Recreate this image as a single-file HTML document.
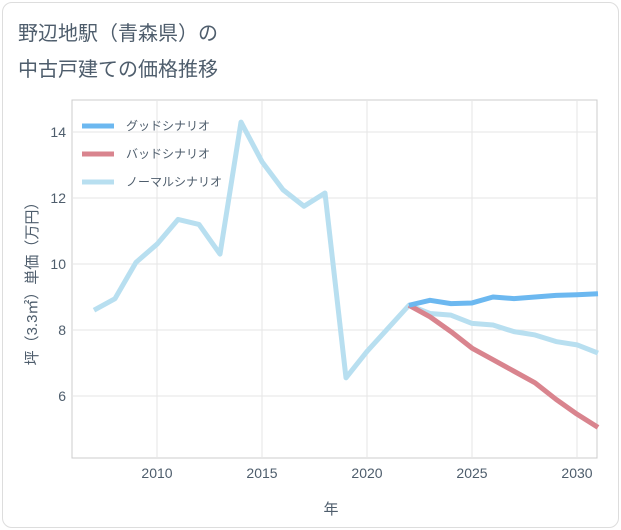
<!DOCTYPE html>
<html><head><meta charset="utf-8"><style>
body{margin:0;background:#fff;font-family:"Liberation Sans","Noto Sans CJK JP",sans-serif;}
#card{position:absolute;left:2px;top:2px;width:615px;height:524px;border:1px solid #ddd;border-radius:10px;background:#fff;}
</style></head><body>
<div id="card"></div>
<svg id="c" width="621" height="530" style="position:absolute;left:0;top:0">
<text x="18" y="40" font-size="20" fill="#4e5d6c">野辺地駅（青森県）の</text>
<text x="18" y="76" font-size="20" fill="#4e5d6c">中古戸建ての価格推移</text>
<g id="grid"></g><g id="series"></g>
<text x="331" y="514" font-size="15" fill="#4e5d6c" text-anchor="middle">年</text>
<text transform="translate(37,280) rotate(-90)" font-size="15" fill="#4e5d6c" text-anchor="middle">坪（3.3㎡）単価（万円）</text>
</svg>
<script>
const years=[2007,2008,2009,2010,2011,2012,2013,2014,2015,2016,2017,2018,2019,2020,2021,2022,2023,2024,2025,2026,2027,2028,2029,2030,2031];
const normal=[8.6,8.95,10.05,10.6,11.35,11.2,10.3,14.3,13.1,12.25,11.75,12.15,6.55,7.35,8.05,8.75,8.5,8.45,8.2,8.15,7.95,7.85,7.65,7.55,7.3];
const goodYears=[2022,2023,2024,2025,2026,2027,2028,2029,2030,2031];
const good=[8.75,8.9,8.8,8.82,9.0,8.95,9.0,9.05,9.07,9.1];
const bad=[8.75,8.4,7.95,7.45,7.1,6.75,6.4,5.9,5.45,5.05];
const xTicks=[2010,2015,2020,2025,2030];
const yTicks=[6,8,10,12,14];
const X=y=>157+(y-2010)*21, Y=v=>264-(v-10)*33;
const NS='http://www.w3.org/2000/svg';
const g=document.getElementById('grid'), s=document.getElementById('series');
function el(p,t,a){const e=document.createElementNS(NS,t);for(const k in a)e.setAttribute(k,a[k]);p.appendChild(e);return e;}
const frame=el(g,'rect',{x:72,y:100,width:525,height:358,fill:'none',stroke:'#ccc'});


xTicks.forEach(t=>{const l=el(g,'line',{x1:X(t),x2:X(t),y1:100,y2:458,stroke:'#e6e6e6'});


const tx=el(g,'text',{x:X(t),y:478,'font-size':14,fill:'#4e5d6c','text-anchor':'middle'});tx.textContent=t;

});
yTicks.forEach(t=>{const l=el(g,'line',{x1:72,x2:597,y1:Y(t),y2:Y(t),stroke:'#e6e6e6'});


const tx=el(g,'text',{x:66,y:Y(t)+5,'font-size':14,fill:'#4e5d6c','text-anchor':'end'});tx.textContent=t;

});
function line(xs,vs,c,name){const p=el(s,'polyline',{points:xs.map((y,i)=>X(y)+','+Y(vs[i])).join(' '),fill:'none',stroke:c,'stroke-width':5,'stroke-linejoin':'round'});

}
line(years,normal,'#b8dff0','normal-scenario-line');
line(goodYears,bad,'#d9848e','bad-scenario-line');
line(goodYears,good,'#6cb8f0','good-scenario-line');
const leg=[['グッドシナリオ','#6cb8f0'],['バッドシナリオ','#d9848e'],['ノーマルシナリオ','#b8dff0']];
leg.forEach((d,i)=>{const y=126+i*28;
const l=el(s,'line',{x1:82,x2:114,y1:y,y2:y,stroke:d[1],'stroke-width':5});


const t=el(s,'text',{x:126,y:y+4,'font-size':12,fill:'#4e5d6c'});t.textContent=d[0];

});
</script>
</body></html>
